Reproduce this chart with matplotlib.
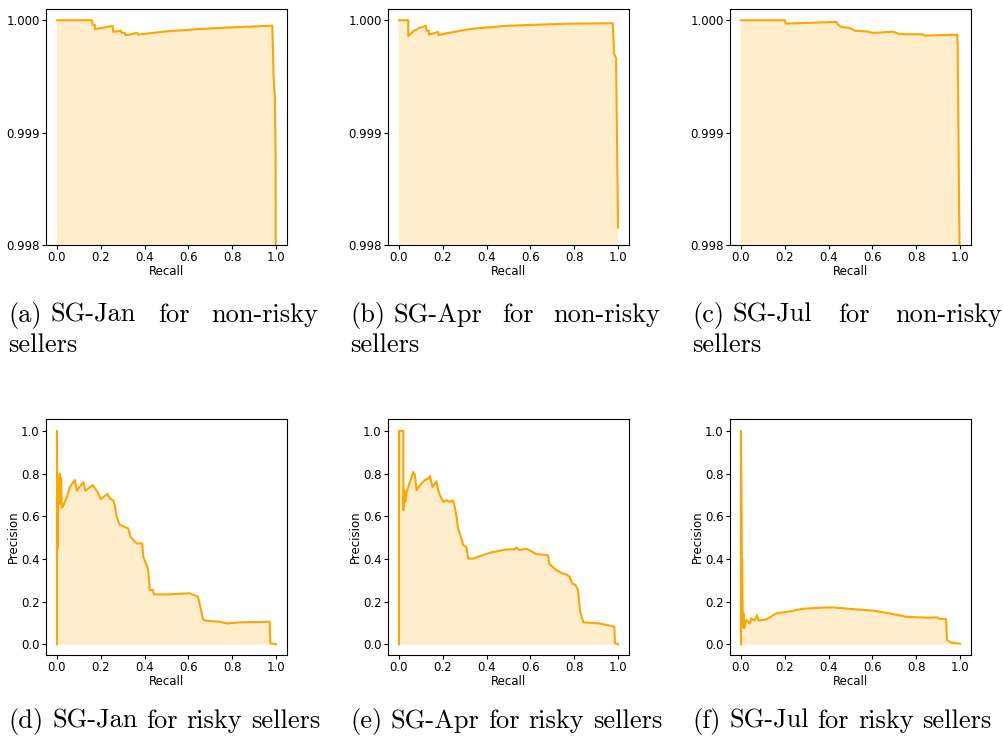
import matplotlib
matplotlib.use("Agg")
import matplotlib.pyplot as plt
from matplotlib.ticker import FormatStrFormatter

## Precision-recall curves for the six SG models
W, H = 1004, 737

# (a) SG-Jan, non-risky sellers
jan_nonrisky_recall = [0.0, 0.160, 0.163, 0.173, 0.173, 0.254, 0.257, 0.292, 0.295, 0.310,
                       0.313, 0.366, 0.372, 0.50, 0.652, 0.804, 0.983, 0.989, 0.995, 0.998, 1.0]
jan_nonrisky_precision = [1.0, 1.0, 0.99996, 0.99996, 0.99992, 0.99995, 0.999896, 0.999907,
                          0.999887, 0.999887, 0.999866, 0.999887, 0.999872, 0.999901, 0.999922,
                          0.999937, 0.999952, 0.99950, 0.99930, 0.99880, 0.9970]

# (b) SG-Apr, non-risky sellers
apr_nonrisky_recall = [0.0, 0.0425, 0.0425, 0.065, 0.096, 0.123, 0.126, 0.137, 0.137, 0.179,
                       0.181, 0.263, 0.338, 0.49, 0.642, 0.794, 0.976, 0.983, 0.991, 0.995, 1.0]
apr_nonrisky_precision = [1.0, 1.0, 0.99986, 0.999901, 0.999934, 0.99995, 0.999907, 0.999907,
                          0.999872, 0.999896, 0.999869, 0.999901, 0.999925, 0.99995, 0.999961,
                          0.99997, 0.999973, 0.999693, 0.999663, 0.998991, 0.998155]

# (c) SG-Jul, non-risky sellers
jul_nonrisky_recall = [0.0, 0.201, 0.204, 0.435, 0.443, 0.458, 0.496, 0.519, 0.573, 0.603,
                       0.694, 0.717, 0.755, 0.831, 0.838, 0.938, 0.986, 0.989, 1.0]
jul_nonrisky_precision = [1.0, 1.0, 0.99997, 0.999985, 0.999961, 0.99994, 0.999931, 0.999907,
                          0.999901, 0.999887, 0.999898, 0.999881, 0.999875, 0.999875, 0.999863,
                          0.999869, 0.999872, 0.999797, 0.9975]

# (d) SG-Jan, risky sellers
jan_risky_recall = [0.0, 0.0, 0.003, 0.006, 0.009, 0.013, 0.016, 0.019, 0.022, 0.029, 0.045,
                    0.06, 0.082, 0.09, 0.12, 0.13, 0.163, 0.188, 0.20, 0.23, 0.242, 0.257,
                    0.264, 0.272, 0.287, 0.325, 0.336, 0.363, 0.389, 0.394, 0.406, 0.416,
                    0.424, 0.439, 0.442, 0.50, 0.606, 0.644, 0.667, 0.682, 0.743, 0.774,
                    0.834, 0.971, 0.974, 1.0]
jan_risky_precision = [0.0, 1.0, 0.45, 0.75, 0.66, 0.80, 0.66, 0.78, 0.64, 0.65, 0.69,
                       0.74, 0.77, 0.72, 0.76, 0.72, 0.746, 0.71, 0.68, 0.705, 0.683, 0.675,
                       0.652, 0.60, 0.56, 0.543, 0.504, 0.473, 0.473, 0.41, 0.38, 0.35,
                       0.254, 0.254, 0.234, 0.234, 0.239, 0.223, 0.117, 0.111, 0.106, 0.098,
                       0.103, 0.106, 0.005, 0.0]

# (e) SG-Apr, risky sellers
apr_risky_recall = [0.0, 0.0, 0.02, 0.02, 0.024, 0.029, 0.035, 0.05, 0.065, 0.073, 0.08,
                    0.096, 0.118, 0.134, 0.141, 0.153, 0.171, 0.179, 0.187, 0.202, 0.217,
                    0.232, 0.247, 0.255, 0.263, 0.27, 0.285, 0.293, 0.308, 0.316, 0.338,
                    0.414, 0.49, 0.528, 0.536, 0.551, 0.581, 0.627, 0.68, 0.687, 0.718,
                    0.748, 0.763, 0.779, 0.791, 0.806, 0.817, 0.827, 0.842, 0.915, 0.983,
                    0.986, 1.0]
apr_risky_precision = [0.0, 1.0, 1.0, 0.629, 0.722, 0.668, 0.714, 0.761, 0.808, 0.793, 0.722,
                       0.746, 0.769, 0.777, 0.789, 0.738, 0.764, 0.722, 0.699, 0.668, 0.675,
                       0.668, 0.675, 0.644, 0.598, 0.543, 0.496, 0.465, 0.457, 0.402, 0.402,
                       0.429, 0.445, 0.445, 0.454, 0.441, 0.449, 0.423, 0.418, 0.376, 0.348,
                       0.332, 0.328, 0.317, 0.285, 0.278, 0.254, 0.153, 0.103, 0.098, 0.083,
                       0.005, 0.0]

# (f) SG-Jul, risky sellers
jul_risky_recall = [0.0, 0.0, 0.003, 0.004, 0.005, 0.006, 0.008, 0.010, 0.012, 0.015, 0.024,
                    0.04, 0.047, 0.062, 0.073, 0.081, 0.116, 0.161, 0.222, 0.283, 0.374,
                    0.419, 0.511, 0.602, 0.678, 0.754, 0.845, 0.898, 0.906, 0.936, 0.941,
                    0.959, 1.0]
jul_risky_precision = [0.0, 1.0, 0.62, 0.33, 0.40, 0.34, 0.14, 0.08, 0.145, 0.075, 0.114,
                       0.098, 0.122, 0.111, 0.137, 0.111, 0.117, 0.145, 0.154, 0.167, 0.172,
                       0.173, 0.165, 0.158, 0.145, 0.129, 0.125, 0.126, 0.119, 0.119, 0.02,
                       0.008, 0.003]

panels = [
    (jan_nonrisky_recall, jan_nonrisky_precision, "(a)", "SG-Jan for non-risky sellers"),
    (apr_nonrisky_recall, apr_nonrisky_precision, "(b)", "SG-Apr for non-risky sellers"),
    (jul_nonrisky_recall, jul_nonrisky_precision, "(c)", "SG-Jul for non-risky sellers"),
    (jan_risky_recall, jan_risky_precision, "(d)", "SG-Jan for risky sellers"),
    (apr_risky_recall, apr_risky_precision, "(e)", "SG-Apr for risky sellers"),
    (jul_risky_recall, jul_risky_precision, "(f)", "SG-Jul for risky sellers"),
]

fig = plt.figure(figsize=(W / 100, H / 100), dpi=100)
renderer = fig.canvas.get_renderer()

col_left = [46, 388, 730]
row_top = [9, 419]
ax_w, ax_h = 241, 236
cap_font = dict(family="cmr10", size=19)


def text_width(s):
    t = fig.text(0, 0, s, **cap_font)
    w = t.get_window_extent(renderer).width
    t.remove()
    return w


SPACE = text_width("a a") - 2 * text_width("a")


def place_words(words, x0, y, gaps):
    # lay words out on one caption line, gaps given in pixels
    x = x0
    for k, w in enumerate(words):
        t = fig.text(x / W, 1 - y / H, w, va="baseline", **cap_font)
        x += t.get_window_extent(renderer).width
        if k < len(gaps):
            x += gaps[k]


for i, (rec, prec, tag, caption) in enumerate(panels):
    row, col = divmod(i, 3)
    left, top = col_left[col], row_top[row]
    ax = fig.add_axes([left / W, 1 - (top + ax_h) / H, ax_w / W, ax_h / H])
    ax.plot(rec, prec, color="orange", lw=1.5)
    ax.fill_between(rec, prec, color="orange", alpha=0.2, lw=0)
    ax.set_xlim(-0.05, 1.05)
    ax.set_xticks([0.0, 0.2, 0.4, 0.6, 0.8, 1.0])
    ax.set_xlabel("Recall", fontsize=8.5, labelpad=0.5)
    ax.tick_params(labelsize=8.5, length=3, pad=1.5)
    if row == 0:
        ax.set_ylim(0.998, 1.0001)
        ax.set_yticks([0.998, 0.999, 1.000])
        ax.yaxis.set_major_formatter(FormatStrFormatter("%.3f"))
    else:
        ax.set_ylim(-0.05, 1.056)
        ax.set_yticks([0.0, 0.2, 0.4, 0.6, 0.8, 1.0])
        ax.set_ylabel("Precision", fontsize=8.5, labelpad=1)

    cx0 = 8 + col * 342
    words = caption.split()
    if row == 0:
        # first line justified over the 310 px column
        line = [tag, words[0], words[1], words[2]]
        natural = sum(text_width(w) for w in line)
        gap = (310 - natural - SPACE) / 2
        place_words(line, cx0, 322, [SPACE, gap, gap])
        place_words([words[3]], cx0, 352, [])
    else:
        line = [tag] + words
        place_words(line, cx0, 728, [SPACE] * (len(line) - 1))

fig.savefig("out.png", dpi=100)
